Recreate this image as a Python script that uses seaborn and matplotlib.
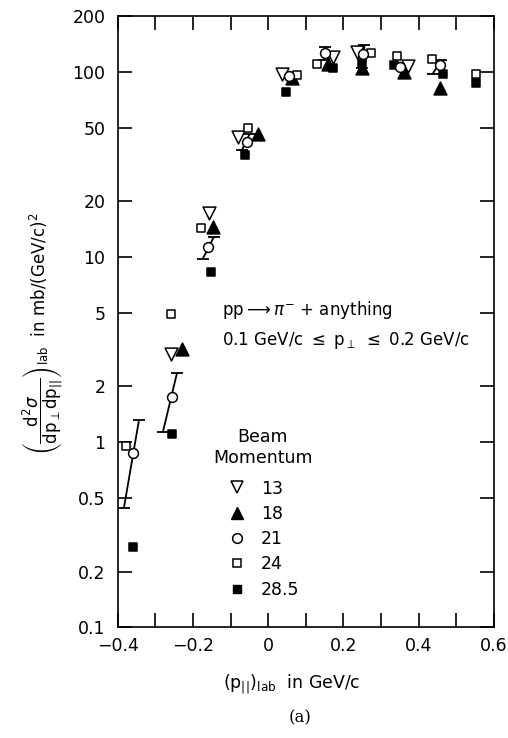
import numpy as np
import pandas as pd
import matplotlib
matplotlib.use('Agg')
import matplotlib.pyplot as plt
from matplotlib.lines import Line2D
import seaborn as sns

# beam momentum series (GeV/c)
x13 = [-0.259, -0.158, -0.08, 0.036, 0.172, 0.236, 0.371]
y13 = [3.0, 17.2, 44.4, 98, 120, 128, 108]

x18 = [-0.23, -0.147, -0.028, 0.063, 0.16, 0.249, 0.36, 0.456]
y18 = [3.2, 14.5, 46.5, 92.5, 111, 105, 99.5, 81.6]

x21 = [-0.36, -0.256, -0.16, -0.057, 0.055, 0.15, 0.252, 0.35, 0.457]
y21 = [0.87, 1.75, 11.3, 41.7, 95, 126, 125, 107, 109]
# error bars for the 21 GeV/c points (slanted in the original)
err21_xlo = [-0.384, -0.28, -0.174, -0.07, np.nan, 0.148, 0.25, np.nan, 0.438]
err21_ylo = [0.44, 1.14, 9.8, 37.8, np.nan, 116, 105, np.nan, 98]
err21_xhi = [-0.344, -0.243, -0.145, -0.05, np.nan, 0.152, 0.256, np.nan, 0.46]
err21_yhi = [1.31, 2.35, 12.8, 46, np.nan, 136, 139, np.nan, 116]

x24 = [-0.379, -0.259, -0.179, -0.054, 0.076, 0.13, 0.273, 0.342, 0.435, 0.552]
y24 = [0.95, 4.9, 14.3, 49.6, 96, 110, 126, 122, 117, 98]

x285 = [-0.36, -0.256, -0.153, -0.062, 0.047, 0.172, 0.25, 0.334, 0.464, 0.552]
y285 = [0.27, 1.11, 8.3, 35.5, 77.6, 105, 112, 109, 98, 87]

y_ticks = [0.1, 0.2, 0.5, 1, 2, 5, 10, 20, 50, 100, 200]
y_ticklabels = ['0.1', '0.2', '0.5', '1', '2', '5', '10', '20', '50', '100', '200']
x_ticks = [-0.4, -0.2, 0, 0.2, 0.4, 0.6]
x_ticklabels = ['\u22120.4', '\u22120.2', '0', '0.2', '0.4', '0.6']

sns.set_style('ticks', {'xtick.direction': 'in', 'ytick.direction': 'in'})
plt.rcParams['font.family'] = ['DejaVu Sans']
plt.rcParams['mathtext.fontset'] = 'dejavusans'
for k in ['text.color', 'axes.labelcolor', 'xtick.color', 'ytick.color', 'axes.edgecolor']:
    plt.rcParams[k] = 'black'

fig = plt.figure(figsize=(5.08, 7.38), dpi=100)
ax = fig.add_axes([0.232, 0.150, 0.740, 0.828])

# error bars
for xl, yl, xh, yh in zip(err21_xlo, err21_ylo, err21_xhi, err21_yhi):
    if np.isnan(xl):
        continue
    ax.plot([xl, xh], [yl, yh], color='black', lw=1.3, zorder=2)
    ax.plot([xl, xh], [yl, yh], ls='none', marker='_', ms=9, mew=1.3, color='black', zorder=2)

series = [
    (x285, y285, 's', 'black', 28, '28.5'),
    (x18, y18, '^', 'black', 85, '18'),
    (x13, y13, 'v', 'white', 85, '13'),
    (x24, y24, 's', 'white', 38, '24'),
    (x21, y21, 'o', 'white', 50, '21'),
]
for xs, ys, mk, fc, s, lab in series:
    df = pd.DataFrame({'p': xs, 'xs': ys})
    sns.scatterplot(data=df, x='p', y='xs', ax=ax, marker=mk, s=s,
                    color=fc, edgecolor='black', linewidth=1.1, zorder=3)

ax.set_yscale('log')
ax.set_xlim(-0.4, 0.6)
ax.set_ylim(0.1, 200)
ax.set_xticks(np.arange(-0.4, 0.61, 0.1), minor=True)
ax.set_xticks(x_ticks)
ax.set_xticklabels(x_ticklabels)
ax.set_yticks(y_ticks)
ax.set_yticklabels(y_ticklabels)
ax.yaxis.set_minor_locator(matplotlib.ticker.NullLocator())
ax.tick_params(which='both', direction='in', top=True, right=True, length=10,
               width=1.2, labelsize=12.5, color='black')
ax.tick_params(axis='y', pad=9)
ax.tick_params(axis='x', pad=7)
for sp in ax.spines.values():
    sp.set_linewidth(1.2)
    sp.set_color('black')

ax.set_xlabel(r'$(\mathrm{p}_{||})_{\mathrm{lab}}$  in GeV/c', fontsize=12.5)
ax.xaxis.set_label_coords(0.463, -0.075)
ax.set_ylabel(r'$\left(\dfrac{\mathrm{d}^2\sigma}{\mathrm{dp}_{\perp}\mathrm{dp}_{||}}\right)_{\mathrm{lab}}$  in mb/(GeV/c)$^2$',
              fontsize=12)
ax.yaxis.set_label_coords(-0.14, 0.48)

ax.text(0.277, 0.519, r'pp$\longrightarrow\pi^{-}$ + anything', transform=ax.transAxes,
        fontsize=12, va='center', ha='left')
ax.text(0.277, 0.470, r'0.1 GeV/c $\leq$ p$_{\perp}$ $\leq$ 0.2 GeV/c', transform=ax.transAxes,
        fontsize=12, va='center', ha='left')

handles = [
    Line2D([], [], ls='none', marker='v', ms=9, mfc='white', mec='black', mew=1.1),
    Line2D([], [], ls='none', marker='^', ms=9, mfc='black', mec='black'),
    Line2D([], [], ls='none', marker='o', ms=7, mfc='white', mec='black', mew=1.1),
    Line2D([], [], ls='none', marker='s', ms=6, mfc='white', mec='black', mew=1.1),
    Line2D([], [], ls='none', marker='s', ms=5.5, mfc='black', mec='black'),
]
leg = ax.legend(handles, ['13', '18', '21', '24', '28.5'], title='Beam\nMomentum',
                frameon=False, loc='upper left', bbox_to_anchor=(0.23, 0.340),
                borderpad=0, handlelength=1.2, handletextpad=0.8, labelspacing=0.42,
                fontsize=12.5, title_fontsize=12.5)
leg.get_title().set_multialignment('center')
leg._legend_box.sep = 9

fig.text(0.59, 1 - 718 / 738, '(a)', family='DejaVu Serif', fontsize=12, ha='center', va='center')

fig.savefig('out.png', dpi=100)
